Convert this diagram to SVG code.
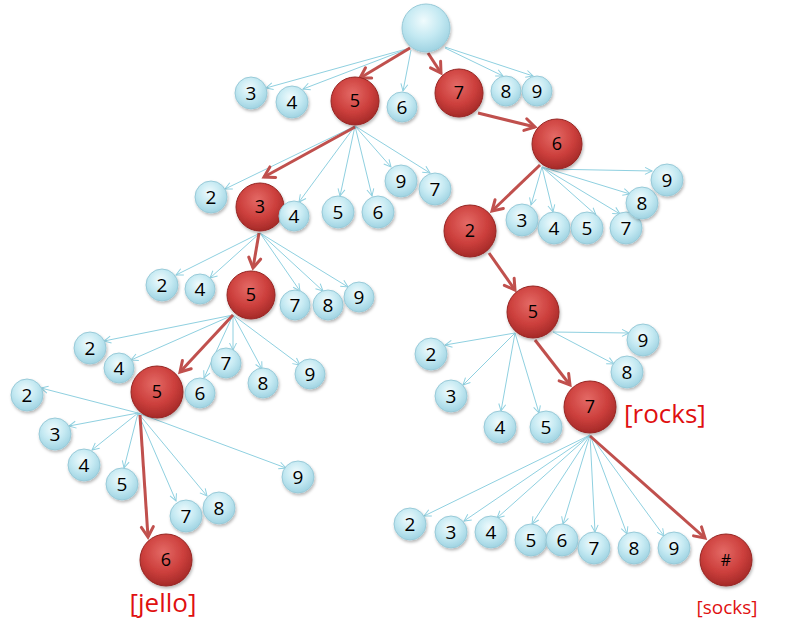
<svg xmlns="http://www.w3.org/2000/svg" width="800" height="630" viewBox="0 0 800 630">
<defs>
<radialGradient id="gb" cx="45%" cy="35%" r="65%">
<stop offset="0" stop-color="#f0fbfd"/>
<stop offset="0.55" stop-color="#c4e9f2"/>
<stop offset="1" stop-color="#9fd3e2"/>
</radialGradient>
<radialGradient id="gr" cx="45%" cy="35%" r="65%">
<stop offset="0" stop-color="#e46a66"/>
<stop offset="0.6" stop-color="#cc3f3c"/>
<stop offset="1" stop-color="#a52a28"/>
</radialGradient>
<filter id="sh" x="-30%" y="-30%" width="160%" height="160%">
<feDropShadow dx="1" dy="2" stdDeviation="1.5" flood-color="#000" flood-opacity="0.28"/>
</filter>
<marker id="ab" markerUnits="userSpaceOnUse" markerWidth="10" markerHeight="10" refX="0" refY="0" orient="auto" overflow="visible">
<path d="M-7,-3.5 L0,0 L-7,3.5" fill="none" stroke="#8fd0e0" stroke-width="1"/>
</marker>
<marker id="ar" markerUnits="userSpaceOnUse" markerWidth="14" markerHeight="14" refX="0" refY="0" orient="auto" overflow="visible">
<path d="M-10,-6 L0,0 L-10,6" fill="none" stroke="#c0504d" stroke-width="3" stroke-linecap="round"/>
</marker>
</defs>
<style>
.e{stroke:#8fd0e0;stroke-width:1;fill:none;marker-end:url(#ab)}
.er{stroke:#c0504d;stroke-width:3;fill:none;marker-end:url(#ar)}
.b{fill:url(#gb);stroke:#98cad8;stroke-width:1;filter:url(#sh)}
.r{fill:url(#gr);stroke:#962523;stroke-width:1;filter:url(#sh)}
.t{font-family:"Open Sans","Noto Sans",sans-serif;font-size:19px;fill:#000;text-anchor:middle}
.tr{font-family:"Open Sans","Noto Sans",sans-serif;font-size:18px;fill:#000;text-anchor:middle}
.lab{font-family:"Open Sans","Noto Sans",sans-serif;fill:#e01010}
</style>
<rect width="800" height="630" fill="#fff"/>
<g id="connectors">
<line class="e" x1="410" y1="48" x2="266" y2="88"/>
<line class="e" x1="410" y1="48" x2="303" y2="89"/>
<line class="e" x1="411" y1="50" x2="403" y2="91"/>
<line class="e" x1="445" y1="48" x2="503" y2="76"/>
<line class="e" x1="445" y1="47" x2="533" y2="76"/>
<line class="er" x1="410" y1="48" x2="360" y2="78"/>
<line class="er" x1="428" y1="53" x2="441" y2="73"/>
<line class="er" x1="478" y1="113" x2="535" y2="127"/>
<line class="e" x1="355" y1="126" x2="225" y2="189"/>
<line class="e" x1="355" y1="126" x2="299" y2="202"/>
<line class="e" x1="355" y1="126" x2="340" y2="196"/>
<line class="e" x1="355" y1="126" x2="372" y2="196"/>
<line class="e" x1="355" y1="126" x2="391" y2="167"/>
<line class="e" x1="355" y1="126" x2="430" y2="173"/>
<line class="er" x1="355" y1="127" x2="264" y2="177"/>
<line class="e" x1="260" y1="233" x2="176" y2="275"/>
<line class="e" x1="260" y1="233" x2="210" y2="278"/>
<line class="e" x1="260" y1="233" x2="300" y2="291"/>
<line class="e" x1="260" y1="233" x2="323" y2="291"/>
<line class="e" x1="260" y1="233" x2="348" y2="287"/>
<line class="er" x1="259" y1="233" x2="253" y2="268"/>
<line class="e" x1="233" y1="315" x2="104" y2="341"/>
<line class="e" x1="233" y1="315" x2="131" y2="360"/>
<line class="e" x1="233" y1="315" x2="204" y2="378"/>
<line class="e" x1="233" y1="315" x2="233" y2="350"/>
<line class="e" x1="233" y1="315" x2="262" y2="369"/>
<line class="e" x1="233" y1="315" x2="300" y2="365"/>
<line class="er" x1="233" y1="315" x2="180" y2="372"/>
<line class="e" x1="138" y1="413" x2="41" y2="388"/>
<line class="e" x1="138" y1="413" x2="69" y2="426"/>
<line class="e" x1="138" y1="413" x2="92" y2="450"/>
<line class="e" x1="138" y1="413" x2="124" y2="468"/>
<line class="e" x1="138" y1="413" x2="176" y2="501"/>
<line class="e" x1="138" y1="413" x2="207" y2="496"/>
<line class="e" x1="138" y1="413" x2="286" y2="468"/>
<line class="er" x1="140" y1="415" x2="148" y2="537"/>
<line class="e" x1="542" y1="167" x2="531" y2="205"/>
<line class="e" x1="542" y1="167" x2="553" y2="212"/>
<line class="e" x1="542" y1="167" x2="596" y2="215"/>
<line class="e" x1="542" y1="167" x2="620" y2="214"/>
<line class="e" x1="542" y1="167" x2="630" y2="194"/>
<line class="e" x1="546" y1="169" x2="652" y2="171"/>
<line class="er" x1="540" y1="165" x2="492" y2="211"/>
<line class="er" x1="489" y1="253" x2="515" y2="290"/>
<line class="e" x1="515" y1="333" x2="445" y2="345"/>
<line class="e" x1="515" y1="333" x2="463" y2="385"/>
<line class="e" x1="515" y1="333" x2="501" y2="411"/>
<line class="e" x1="515" y1="333" x2="539" y2="413"/>
<line class="e" x1="553" y1="332" x2="614" y2="364"/>
<line class="e" x1="553" y1="332" x2="629" y2="333"/>
<line class="er" x1="535" y1="340" x2="570" y2="385"/>
<line class="e" x1="590" y1="435" x2="424" y2="516"/>
<line class="e" x1="590" y1="435" x2="464" y2="521"/>
<line class="e" x1="590" y1="435" x2="497" y2="518"/>
<line class="e" x1="590" y1="435" x2="532" y2="524"/>
<line class="e" x1="590" y1="435" x2="563" y2="524"/>
<line class="e" x1="590" y1="435" x2="595" y2="532"/>
<line class="e" x1="590" y1="435" x2="627" y2="534"/>
<line class="e" x1="590" y1="435" x2="664" y2="536"/>
<line class="er" x1="590" y1="436" x2="705" y2="538"/>
</g>
<g id="root"><circle class="b" cx="426" cy="28" r="24"/></g>
<g id="n1-3"><circle class="b" cx="251" cy="93" r="16"/><text class="t" x="251" y="100">3</text></g>
<g id="n1-4"><circle class="b" cx="292" cy="102" r="16"/><text class="t" x="292" y="109">4</text></g>
<g id="n1-5"><circle class="r" cx="355" cy="101" r="24"/><text class="tr" x="355" y="107">5</text></g>
<g id="n1-6"><circle class="b" cx="402" cy="107" r="15"/><text class="t" x="402" y="114">6</text></g>
<g id="n1-7"><circle class="r" cx="459" cy="93" r="24"/><text class="tr" x="459" y="99">7</text></g>
<g id="n1-8"><circle class="b" cx="506" cy="91" r="15"/><text class="t" x="506" y="98">8</text></g>
<g id="n1-9"><circle class="b" cx="537" cy="91" r="15"/><text class="t" x="537" y="98">9</text></g>
<g id="n2-2"><circle class="b" cx="211" cy="197" r="16"/><text class="t" x="211" y="204">2</text></g>
<g id="n2-3"><circle class="r" cx="260" cy="207" r="24"/><text class="tr" x="260" y="213">3</text></g>
<g id="n2-4"><circle class="b" cx="294" cy="216" r="15"/><text class="t" x="294" y="223">4</text></g>
<g id="n2-5"><circle class="b" cx="338" cy="212" r="16"/><text class="t" x="338" y="219">5</text></g>
<g id="n2-6"><circle class="b" cx="378" cy="212" r="16"/><text class="t" x="378" y="219">6</text></g>
<g id="n2-9"><circle class="b" cx="401" cy="181" r="16"/><text class="t" x="401" y="188">9</text></g>
<g id="n2-7"><circle class="b" cx="435" cy="189" r="16"/><text class="t" x="435" y="196">7</text></g>
<g id="n6a"><circle class="r" cx="557" cy="144" r="25"/><text class="tr" x="557" y="150">6</text></g>
<g id="n3-2"><circle class="b" cx="162" cy="285" r="16"/><text class="t" x="162" y="292">2</text></g>
<g id="n3-4"><circle class="b" cx="200" cy="289" r="15"/><text class="t" x="200" y="296">4</text></g>
<g id="n3-5"><circle class="r" cx="251" cy="295" r="24"/><text class="tr" x="251" y="301">5</text></g>
<g id="n3-7"><circle class="b" cx="295" cy="305" r="15"/><text class="t" x="295" y="312">7</text></g>
<g id="n3-8"><circle class="b" cx="328" cy="305" r="15"/><text class="t" x="328" y="312">8</text></g>
<g id="n3-9"><circle class="b" cx="359" cy="297" r="15"/><text class="t" x="359" y="304">9</text></g>
<g id="n4-2"><circle class="b" cx="90" cy="348" r="16"/><text class="t" x="90" y="355">2</text></g>
<g id="n4-4"><circle class="b" cx="119" cy="368" r="15"/><text class="t" x="119" y="375">4</text></g>
<g id="n4-5"><circle class="r" cx="157" cy="392" r="26"/><text class="tr" x="157" y="398">5</text></g>
<g id="n4-6"><circle class="b" cx="200" cy="393" r="15"/><text class="t" x="200" y="400">6</text></g>
<g id="n4-7"><circle class="b" cx="226" cy="363" r="15"/><text class="t" x="226" y="370">7</text></g>
<g id="n4-8"><circle class="b" cx="263" cy="383" r="15"/><text class="t" x="263" y="390">8</text></g>
<g id="n4-9"><circle class="b" cx="310" cy="374" r="15"/><text class="t" x="310" y="381">9</text></g>
<g id="n5-2"><circle class="b" cx="27" cy="395" r="16"/><text class="t" x="27" y="402">2</text></g>
<g id="n5-3"><circle class="b" cx="55" cy="434" r="16"/><text class="t" x="55" y="441">3</text></g>
<g id="n5-4"><circle class="b" cx="84" cy="465" r="16"/><text class="t" x="84" y="472">4</text></g>
<g id="n5-5"><circle class="b" cx="122" cy="484" r="16"/><text class="t" x="122" y="491">5</text></g>
<g id="n5-7"><circle class="b" cx="186" cy="516" r="16"/><text class="t" x="186" y="523">7</text></g>
<g id="n5-8"><circle class="b" cx="219" cy="508" r="16"/><text class="t" x="219" y="515">8</text></g>
<g id="n5-9"><circle class="b" cx="298" cy="477" r="16"/><text class="t" x="298" y="484">9</text></g>
<g id="n5-6"><circle class="r" cx="166" cy="560" r="26"/><text class="tr" x="166" y="566">6</text></g>
<g id="r6-2"><circle class="r" cx="470" cy="231" r="26"/><text class="tr" x="470" y="237">2</text></g>
<g id="r6-3"><circle class="b" cx="522" cy="220" r="16"/><text class="t" x="522" y="227">3</text></g>
<g id="r6-4"><circle class="b" cx="554" cy="228" r="16"/><text class="t" x="554" y="235">4</text></g>
<g id="r6-5"><circle class="b" cx="587" cy="228" r="16"/><text class="t" x="587" y="235">5</text></g>
<g id="r6-7"><circle class="b" cx="626" cy="228" r="16"/><text class="t" x="626" y="235">7</text></g>
<g id="r6-8"><circle class="b" cx="642" cy="203" r="16"/><text class="t" x="642" y="210">8</text></g>
<g id="r6-9"><circle class="b" cx="667" cy="180" r="16"/><text class="t" x="667" y="187">9</text></g>
<g id="r5d"><circle class="r" cx="533" cy="312" r="26"/><text class="tr" x="533" y="318">5</text></g>
<g id="r5-2"><circle class="b" cx="431" cy="354" r="16"/><text class="t" x="431" y="361">2</text></g>
<g id="r5-3"><circle class="b" cx="451" cy="396" r="16"/><text class="t" x="451" y="403">3</text></g>
<g id="r5-4"><circle class="b" cx="500" cy="427" r="16"/><text class="t" x="500" y="434">4</text></g>
<g id="r5-5"><circle class="b" cx="546" cy="427" r="16"/><text class="t" x="546" y="434">5</text></g>
<g id="r5-8"><circle class="b" cx="627" cy="372" r="16"/><text class="t" x="627" y="379">8</text></g>
<g id="r5-9"><circle class="b" cx="643" cy="340" r="16"/><text class="t" x="643" y="347">9</text></g>
<g id="r7b"><circle class="r" cx="590" cy="407" r="26"/><text class="tr" x="590" y="413">7</text></g>
<g id="r7-2"><circle class="b" cx="410" cy="524" r="16"/><text class="t" x="410" y="531">2</text></g>
<g id="r7-3"><circle class="b" cx="451" cy="532" r="16"/><text class="t" x="451" y="539">3</text></g>
<g id="r7-4"><circle class="b" cx="491" cy="532" r="16"/><text class="t" x="491" y="539">4</text></g>
<g id="r7-5"><circle class="b" cx="531" cy="540" r="16"/><text class="t" x="531" y="547">5</text></g>
<g id="r7-6"><circle class="b" cx="562" cy="540" r="16"/><text class="t" x="562" y="547">6</text></g>
<g id="r7-7"><circle class="b" cx="594" cy="548" r="16"/><text class="t" x="594" y="555">7</text></g>
<g id="r7-8"><circle class="b" cx="634" cy="548" r="16"/><text class="t" x="634" y="555">8</text></g>
<g id="r7-9"><circle class="b" cx="674" cy="548" r="16"/><text class="t" x="674" y="555">9</text></g>
<g id="r7-hash"><circle class="r" cx="726" cy="560" r="26"/><text class="tr" x="726" y="566" style="font-size:16px">#</text></g>
<g id="labels">
<text class="lab" x="624" y="423" style="font-size:26px">[rocks]</text>
<text class="lab" x="163" y="612" style="font-size:26px" text-anchor="middle">[jello]</text>
<text class="lab" x="727" y="614" style="font-size:19px" text-anchor="middle">[socks]</text>
</g>
</svg>
